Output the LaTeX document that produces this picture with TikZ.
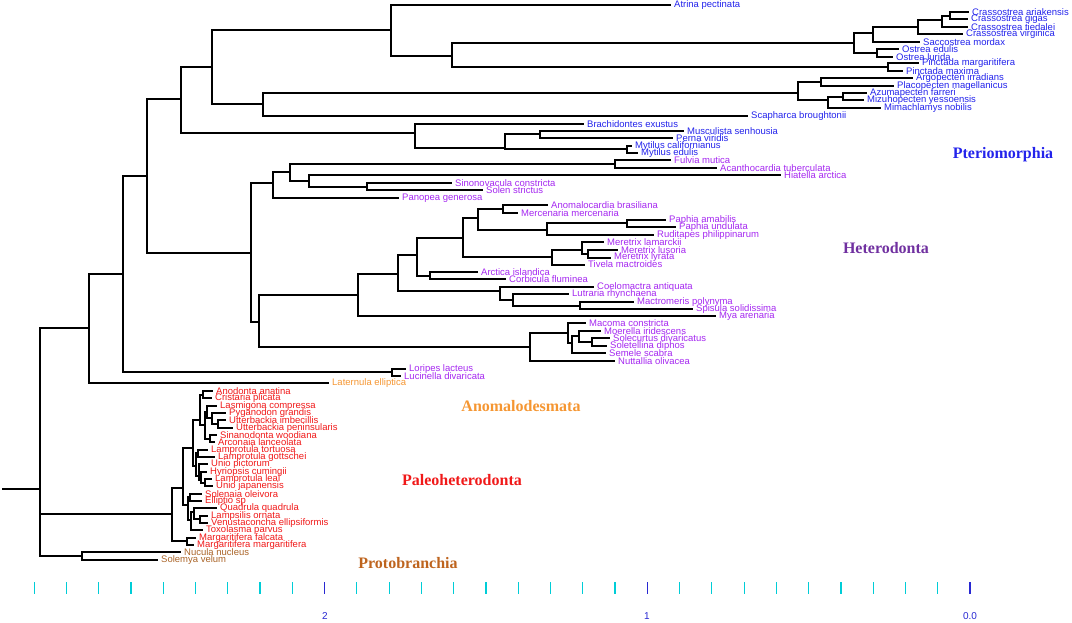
\documentclass[tikz,border=0pt]{standalone}
\usepackage{fontspec}
\setmainfont{Liberation Serif}
\setsansfont{Liberation Sans}
\usetikzlibrary{positioning}
\definecolor{cPte}{RGB}{35,35,235}
\definecolor{cHet}{RGB}{165,40,240}
\definecolor{cHetLab}{RGB}{112,48,160}
\definecolor{cAno}{RGB}{245,150,50}
\definecolor{cPal}{RGB}{240,25,25}
\definecolor{cPro}{RGB}{170,100,40}
\definecolor{cProLab}{RGB}{190,100,30}
\definecolor{cTick}{RGB}{0,205,215}
\definecolor{cMaj}{RGB}{40,40,210}
\tikzstyle{branch} = [line width=2pt, black, line cap=rect]

\begin{document}
\begin{tikzpicture}[x=1pt, y=-1pt,
  leaf/.style={anchor=west, inner xsep=4pt, inner ysep=0pt, text=#1, font=\sffamily\fontsize{9.5}{9.5}\selectfont},
  clade/.style={text=#1, font=\rmfamily\bfseries\fontsize{16}{16}\selectfont},
  scaletick/.style={line width=1.2pt, draw=#1},
  scalelab/.style={text=cMaj, font=\sffamily\fontsize{10}{10}\selectfont}]
  \useasboundingbox (0,0) rectangle (1072,623);

  % Internal nodes
  \coordinate (root) at (3,489);
  \coordinate (n0) at (40,489);
  \coordinate (nA) at (89,328);
  \coordinate (nB) at (123,274);
  \coordinate (nC) at (147,176);
  \coordinate (luc) at (392,372);
  % Pteriomorphia
  \coordinate (nD) at (181,99);
  \coordinate (nE) at (212,67);
  \coordinate (nF) at (391,30);
  \coordinate (nG) at (263,104);
  \coordinate (ost) at (452,56);
  \coordinate (oy) at (854,43);
  \coordinate (cr) at (873,33);
  \coordinate (cr2) at (918,27);
  \coordinate (cr3) at (942,20);
  \coordinate (cr4) at (950,16);
  \coordinate (ostr) at (877,53);
  \coordinate (pin) at (888,67);
  \coordinate (sc) at (798,93);
  \coordinate (sc1) at (821,82);
  \coordinate (sc2) at (828,100);
  \coordinate (sc3) at (843,97);
  \coordinate (mus) at (415,133);
  \coordinate (mus1) at (505,148);
  \coordinate (mus2) at (540,134.5);
  \coordinate (myt) at (627,149.5);
  % Heterodonta
  \coordinate (h1) at (251,253);
  \coordinate (h2) at (273,183);
  \coordinate (h3) at (290,172);
  \coordinate (card) at (615,164);
  \coordinate (h5) at (309,181);
  \coordinate (sol) at (367,187);
  \coordinate (h10) at (259,322);
  \coordinate (h11) at (358,295);
  \coordinate (h12) at (398,274);
  \coordinate (h13) at (417,255);
  \coordinate (arc) at (430,276);
  \coordinate (h14) at (463,238);
  \coordinate (h15) at (478,218);
  \coordinate (ven) at (503,209);
  \coordinate (pap) at (547,230);
  \coordinate (pap1) at (627,223.5);
  \coordinate (mer) at (552,257);
  \coordinate (mer1) at (582,250);
  \coordinate (mer2) at (588,254);
  \coordinate (mac) at (500,291);
  \coordinate (mac1) at (513,300);
  \coordinate (mac2) at (580,305.5);
  \coordinate (tel) at (530,347);
  \coordinate (tel1) at (568,333);
  \coordinate (tel2) at (572,343);
  \coordinate (tel3) at (579,336);
  \coordinate (tel4) at (592,342);
  % Paleoheterodonta and Protobranchia
  \coordinate (pal) at (172,514);
  \coordinate (mar) at (187,541);
  \coordinate (uni) at (183,488);
  \coordinate (u1) at (193,448);
  \coordinate (ua) at (200,420);
  \coordinate (ua1) at (203,394.6);
  \coordinate (ua2) at (205,425);
  \coordinate (ua3) at (207,412);
  \coordinate (ua4) at (212,418);
  \coordinate (ua6) at (218,424);
  \coordinate (ua5) at (210,438.6);
  \coordinate (ub) at (196,466);
  \coordinate (ub1) at (198,453.3);
  \coordinate (ub2) at (199,476);
  \coordinate (ub3) at (201,480);
  \coordinate (ub4) at (205,483);
  \coordinate (u2) at (188,505);
  \coordinate (uc0) at (190,497.3);
  \coordinate (uc2) at (191,520);
  \coordinate (uc3) at (194,512);
  \coordinate (uc5) at (200,519.3);
  \coordinate (pro) at (82,556);

  % Leaves
  \node[leaf=cPte] (atrina) at (670,5) {Atrina pectinata};
  \node[leaf=cPte] (crAri) at (968,12.5) {Crassostrea ariakensis};
  \node[leaf=cPte] (crGig) at (967,19.5) {Crassostrea gigas};
  \node[leaf=cPte] (crTie) at (967,27) {Crassostrea tiedalei};
  \node[leaf=cPte] (crVir) at (962,34.5) {Crassostrea virginica};
  \node[leaf=cPte] (sacMor) at (919,42) {Saccostrea mordax};
  \node[leaf=cPte] (ostEdu) at (898,49.5) {Ostrea edulis};
  \node[leaf=cPte] (ostLur) at (892,57) {Ostrea lurida};
  \node[leaf=cPte] (pinMar) at (918,63.5) {Pinctada margaritifera};
  \node[leaf=cPte] (pinMax) at (902,71) {Pinctada maxima};
  \node[leaf=cPte] (argIrr) at (912,78.5) {Argopecten irradians};
  \node[leaf=cPte] (plaMag) at (893,86) {Placopecten magellanicus};
  \node[leaf=cPte] (azuFar) at (866,93.5) {Azumapecten farreri};
  \node[leaf=cPte] (mizYes) at (863,100.5) {Mizuhopecten yessoensis};
  \node[leaf=cPte] (mimNob) at (880,108) {Mimachlamys nobilis};
  \node[leaf=cPte] (scaBro) at (747,116) {Scapharca broughtonii};
  \node[leaf=cPte] (braExu) at (583,124) {Brachidontes exustus};
  \node[leaf=cPte] (musSen) at (683,131) {Musculista senhousia};
  \node[leaf=cPte] (perVir) at (672,138) {Perna viridis};
  \node[leaf=cPte] (mytCal) at (631,146) {Mytilus californianus};
  \node[leaf=cPte] (mytEdu) at (637,153) {Mytilus edulis};
  \node[leaf=cHet] (fulMut) at (670,160) {Fulvia mutica};
  \node[leaf=cHet] (acaTub) at (716,168) {Acanthocardia tuberculata};
  \node[leaf=cHet] (hiaArc) at (780,175) {Hiatella arctica};
  \node[leaf=cHet] (sinCon) at (451,183) {Sinonovacula constricta};
  \node[leaf=cHet] (solStr) at (482,190.5) {Solen strictus};
  \node[leaf=cHet] (panGen) at (398,198) {Panopea generosa};
  \node[leaf=cHet] (anoBra) at (547,205.5) {Anomalocardia brasiliana};
  \node[leaf=cHet] (merMer) at (517,213) {Mercenaria mercenaria};
  \node[leaf=cHet] (papAma) at (665,220) {Paphia amabilis};
  \node[leaf=cHet] (papUnd) at (675,227) {Paphia undulata};
  \node[leaf=cHet] (rudPhi) at (653,235) {Ruditapes philippinarum};
  \node[leaf=cHet] (merLam) at (603,242) {Meretrix lamarckii};
  \node[leaf=cHet] (merLus) at (617,250) {Meretrix lusoria};
  \node[leaf=cHet] (merLyr) at (610,257.5) {Meretrix lyrata};
  \node[leaf=cHet] (tivMac) at (584,264.5) {Tivela mactroides};
  \node[leaf=cHet] (arcIsl) at (477,272) {Arctica islandica};
  \node[leaf=cHet] (corFlu) at (505,279) {Corbicula fluminea};
  \node[leaf=cHet] (coeAnt) at (593,287) {Coelomactra antiquata};
  \node[leaf=cHet] (lutRhy) at (568,294) {Lutraria rhynchaena};
  \node[leaf=cHet] (macPol) at (633,302) {Mactromeris polynyma};
  \node[leaf=cHet] (spiSol) at (692,309) {Spisula solidissima};
  \node[leaf=cHet] (myaAre) at (715,316) {Mya arenaria};
  \node[leaf=cHet] (macCon) at (585,323) {Macoma constricta};
  \node[leaf=cHet] (moeIri) at (600,331) {Moerella iridescens};
  \node[leaf=cHet] (solDiv) at (609,338) {Solecurtus divaricatus};
  \node[leaf=cHet] (solDip) at (606,346) {Soletellina diphos};
  \node[leaf=cHet] (semSca) at (605,353) {Semele scabra};
  \node[leaf=cHet] (nutOli) at (614,361) {Nuttallia olivacea};
  \node[leaf=cHet] (lorLac) at (405,369) {Loripes lacteus};
  \node[leaf=cHet] (lucDiv) at (400,376) {Lucinella divaricata};
  \node[leaf=cAno] (latEll) at (328,383) {Laternula elliptica};
  \node[leaf=cPal] (anoAna) at (212,391) {Anodonta anatina};
  \node[leaf=cPal] (criPli) at (211,398.3) {Cristaria plicata};
  \node[leaf=cPal] (lasCom) at (216,405.7) {Lasmigona compressa};
  \node[leaf=cPal] (pygGra) at (225,413) {Pyganodon grandis};
  \node[leaf=cPal] (uttImb) at (225,420.3) {Utterbackia imbecillis};
  \node[leaf=cPal] (uttPen) at (232,427.7) {Utterbackia peninsularis};
  \node[leaf=cPal] (sinWoo) at (216,435) {Sinanodonta woodiana};
  \node[leaf=cPal] (arcLan) at (214,442.3) {Arconaia lanceolata};
  \node[leaf=cPal] (lamTor) at (207,449.7) {Lamprotula tortuosa};
  \node[leaf=cPal] (lamGot) at (214,457) {Lamprotula gottschei};
  \node[leaf=cPal] (uniPic) at (207,464.3) {Unio pictorum};
  \node[leaf=cPal] (hyrCum) at (206,471.7) {Hyriopsis cumingii};
  \node[leaf=cPal] (lamLea) at (211,479) {Lamprotula leai};
  \node[leaf=cPal] (uniJap) at (212,486.3) {Unio japanensis};
  \node[leaf=cPal] (solOle) at (201,493.7) {Solenaia oleivora};
  \node[leaf=cPal] (ellSp) at (201,501) {Elliptio sp};
  \node[leaf=cPal] (quaQua) at (216,508.3) {Quadrula quadrula};
  \node[leaf=cPal] (lamOrn) at (207,515.7) {Lampsilis ornata};
  \node[leaf=cPal] (venEll) at (207,523) {Venustaconcha ellipsiformis};
  \node[leaf=cPal] (toxPar) at (202,530.3) {Toxolasma parvus};
  \node[leaf=cPal] (marFal) at (195,537.7) {Margaritifera falcata};
  \node[leaf=cPal] (marMar) at (193,545) {Margaritifera margaritifera};
  \node[leaf=cPro] (nucNuc) at (180,552.3) {Nucula nucleus};
  \node[leaf=cPro] (solVel) at (157,559.7) {Solemya velum};

  % Branches, backbone
  \draw[branch] (root) -- (n0);
  \draw[branch] (n0) |- (nA) (n0) |- (pal) (n0) |- (pro);
  \draw[branch] (nA) |- (nB) (nA) |- (latEll.west);
  \draw[branch] (nB) |- (nC) (nB) |- (luc);
  \draw[branch] (luc) |- (lorLac.west) (luc) |- (lucDiv.west);
  \draw[branch] (nC) |- (nD) (nC) |- (h1);
  % Pteriomorphia
  \draw[branch] (nD) |- (nE) (nD) |- (mus);
  \draw[branch] (nE) |- (nF) (nE) |- (nG);
  \draw[branch] (nF) |- (atrina.west) (nF) |- (ost);
  \draw[branch] (ost) |- (oy) (ost) |- (pin);
  \draw[branch] (oy) |- (cr) (oy) |- (ostr);
  \draw[branch] (cr) |- (cr2) (cr) |- (sacMor.west);
  \draw[branch] (cr2) |- (cr3) (cr2) |- (crVir.west);
  \draw[branch] (cr3) |- (cr4) (cr3) |- (crTie.west);
  \draw[branch] (cr4) |- (crAri.west) (cr4) |- (crGig.west);
  \draw[branch] (ostr) |- (ostEdu.west) (ostr) |- (ostLur.west);
  \draw[branch] (pin) |- (pinMar.west) (pin) |- (pinMax.west);
  \draw[branch] (nG) |- (sc) (nG) |- (scaBro.west);
  \draw[branch] (sc) |- (sc1) (sc) |- (sc2);
  \draw[branch] (sc1) |- (argIrr.west) (sc1) |- (plaMag.west);
  \draw[branch] (sc2) |- (sc3) (sc2) |- (mimNob.west);
  \draw[branch] (sc3) |- (azuFar.west) (sc3) |- (mizYes.west);
  \draw[branch] (mus) |- (braExu.west) (mus) |- (mus1);
  \draw[branch] (mus1) |- (mus2) (mus1) |- (myt);
  \draw[branch] (mus2) |- (musSen.west) (mus2) |- (perVir.west);
  \draw[branch] (myt) |- (mytCal.west) (myt) |- (mytEdu.west);
  % Heterodonta
  \draw[branch] (h1) |- (h2) (h1) |- (h10);
  \draw[branch] (h2) |- (h3) (h2) |- (panGen.west);
  \draw[branch] (h3) |- (card) (h3) |- (h5);
  \draw[branch] (card) |- (fulMut.west) (card) |- (acaTub.west);
  \draw[branch] (h5) |- (hiaArc.west) (h5) |- (sol);
  \draw[branch] (sol) |- (sinCon.west) (sol) |- (solStr.west);
  \draw[branch] (h10) |- (h11) (h10) |- (tel);
  \draw[branch] (h11) |- (h12) (h11) |- (myaAre.west);
  \draw[branch] (h12) |- (h13) (h12) |- (mac);
  \draw[branch] (h13) |- (h14) (h13) |- (arc);
  \draw[branch] (arc) |- (arcIsl.west) (arc) |- (corFlu.west);
  \draw[branch] (h14) |- (h15) (h14) |- (mer);
  \draw[branch] (h15) |- (ven) (h15) |- (pap);
  \draw[branch] (ven) |- (anoBra.west) (ven) |- (merMer.west);
  \draw[branch] (pap) |- (pap1) (pap) |- (rudPhi.west);
  \draw[branch] (pap1) |- (papAma.west) (pap1) |- (papUnd.west);
  \draw[branch] (mer) |- (mer1) (mer) |- (tivMac.west);
  \draw[branch] (mer1) |- (merLam.west) (mer1) |- (mer2);
  \draw[branch] (mer2) |- (merLus.west) (mer2) |- (merLyr.west);
  \draw[branch] (mac) |- (coeAnt.west) (mac) |- (mac1);
  \draw[branch] (mac1) |- (lutRhy.west) (mac1) |- (mac2);
  \draw[branch] (mac2) |- (macPol.west) (mac2) |- (spiSol.west);
  \draw[branch] (tel) |- (tel1) (tel) |- (nutOli.west);
  \draw[branch] (tel1) |- (macCon.west) (tel1) |- (tel2);
  \draw[branch] (tel2) |- (tel3) (tel2) |- (semSca.west);
  \draw[branch] (tel3) |- (moeIri.west) (tel3) |- (tel4);
  \draw[branch] (tel4) |- (solDiv.west) (tel4) |- (solDip.west);
  % Paleoheterodonta
  \draw[branch] (pal) |- (uni) (pal) |- (mar);
  \draw[branch] (mar) |- (marFal.west) (mar) |- (marMar.west);
  \draw[branch] (uni) |- (u1) (uni) |- (u2);
  \draw[branch] (u1) |- (ua) (u1) |- (ub);
  \draw[branch] (ua) |- (ua1) (ua) |- (ua2);
  \draw[branch] (ua1) |- (anoAna.west) (ua1) |- (criPli.west);
  \draw[branch] (ua2) |- (ua3) (ua2) |- (ua5);
  \draw[branch] (ua3) |- (lasCom.west) (ua3) |- (ua4);
  \draw[branch] (ua4) |- (pygGra.west) (ua4) |- (ua6);
  \draw[branch] (ua6) |- (uttImb.west) (ua6) |- (uttPen.west);
  \draw[branch] (ua5) |- (sinWoo.west) (ua5) |- (arcLan.west);
  \draw[branch] (ub) |- (ub1) (ub) |- (ub2);
  \draw[branch] (ub1) |- (lamTor.west) (ub1) |- (lamGot.west);
  \draw[branch] (ub2) |- (uniPic.west) (ub2) |- (ub3);
  \draw[branch] (ub3) |- (hyrCum.west) (ub3) |- (ub4);
  \draw[branch] (ub4) |- (lamLea.west) (ub4) |- (uniJap.west);
  \draw[branch] (u2) |- (uc0) (u2) |- (uc2);
  \draw[branch] (uc0) |- (solOle.west) (uc0) |- (ellSp.west);
  \draw[branch] (uc2) |- (uc3) (uc2) |- (toxPar.west);
  \draw[branch] (uc3) |- (quaQua.west) (uc3) |- (uc5);
  \draw[branch] (uc5) |- (lamOrn.west) (uc5) |- (venEll.west);
  % Protobranchia
  \draw[branch] (pro) |- (nucNuc.west) (pro) |- (solVel.west);

  % Clade names
  \node[clade=cPte] (pteLab) at (1003,155) {Pteriomorphia};
  \node[clade=cHetLab] (hetLab) at (886,248) {Heterodonta};
  \node[clade=cAno] (anoLab) at (521,406) {Anomalodesmata};
  \node[clade=cPal] (palLab) at (462,480) {Paleoheterodonta};
  \node[clade=cProLab] (proLab) at (408,563) {Protobranchia};

  % Scale
  \foreach \k in {1,...,9,11,12,...,19,21,22,...,29}
    \draw[scaletick=cTick] (970-32.27*\k,582) -- ++(0,12);
  \foreach \k in {0,10,20}
    \draw[scaletick=cMaj] (970-32.27*\k,582) -- ++(0,12);
  \node[scalelab] (sc2lab) at (325,616) {2};
  \node[scalelab] (sc1lab) at (647,616) {1};
  \node[scalelab] (sc0lab) at (970,616) {0.0};
\end{tikzpicture}
\end{document}
